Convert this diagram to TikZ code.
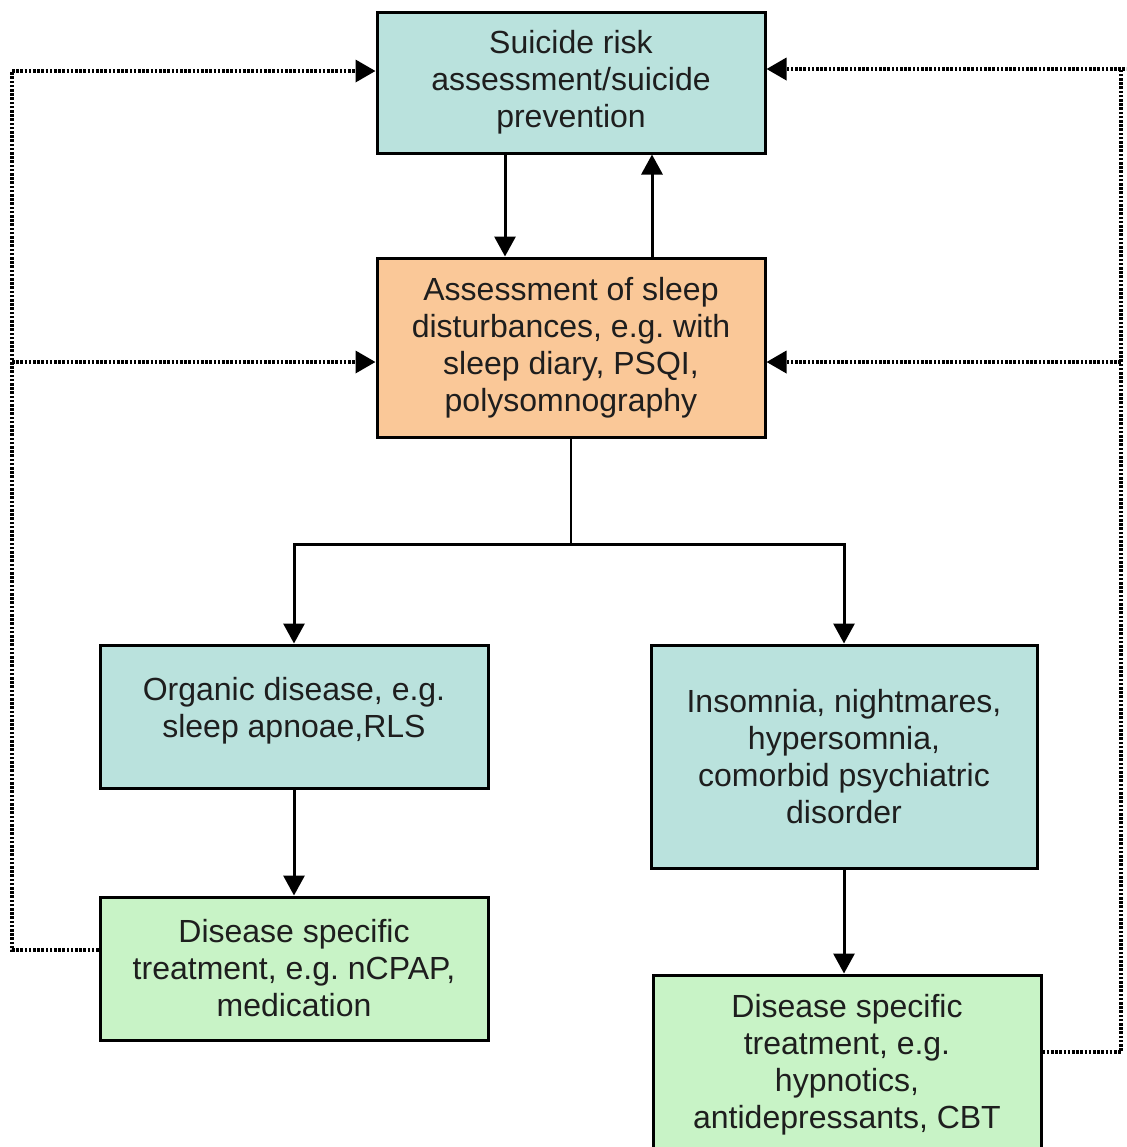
\documentclass[tikz,border=0pt]{standalone}
\usepackage{fontspec}
\setmainfont{Liberation Sans}
\frenchspacing
\usetikzlibrary{arrows.meta,calc}
\definecolor{tealfill}{RGB}{186,226,221}
\definecolor{orangefill}{RGB}{250,200,152}
\definecolor{greenfill}{RGB}{200,243,198}
\definecolor{inktext}{RGB}{30,30,30}
\tikzset{
  box/.style={draw=black, line width=1.5pt, rectangle, inner sep=0pt,
    minimum width=194pt, align=center, text=inktext,
    font=\fontsize{16}{18.5}\selectfont},
  tealbox/.style={box, fill=tealfill},
  orangebox/.style={box, fill=orangefill},
  greenbox/.style={box, fill=greenfill},
  arr/.style={line width=1.5pt, -{Triangle[length=10pt,width=10.5pt]}},
  link/.style={line width=1.2pt},
  fb/.style={line width=1.8pt, dash pattern=on 1.3pt off 0.8pt},
  fbarr/.style={fb, -{Triangle[length=10pt,width=11pt]}},
}
\begin{document}
\begin{tikzpicture}[x=0.5pt,y=-0.5pt]
\useasboundingbox (0,0) rectangle (1126,1147);
\clip (0,0) rectangle (1126,1147);
\fill[white] (0,0) rectangle (1126,1147);

% boxes
\node[tealbox, minimum height=70.5pt] (risk) at (571,82.5)
  {Suicide risk\\assessment/suicide\\prevention};
\node[orangebox, minimum height=89.5pt] (assess) at (571,347.5)
  {Assessment of sleep\\disturbances, e.g. with\\sleep diary, PSQI,\\polysomnography};
\node[tealbox, minimum height=71.5pt] (organic) at (294,716.5)
  {Organic disease, e.g.\\sleep apnoae,RLS\\[-9pt]\mbox{}};
\node[tealbox, minimum width=193pt, minimum height=111.5pt] (insom) at (844,756.5)
  {Insomnia, nightmares,\\hypersomnia,\\comorbid psychiatric\\disorder};
\node[greenbox, minimum height=71.5pt] (treatL) at (294,968.5)
  {Disease specific\\treatment, e.g. nCPAP,\\medication};
\node[greenbox, minimum height=90pt] (treatR) at (847,1065)
  {Disease specific\\treatment, e.g.\\hypnotics,\\antidepressants, CBT};

% solid flow
\draw[arr] ($(risk.south)+(-66,0)$) -- ($(assess.north)+(-66,0)$);
\draw[arr] ($(assess.north)+(81,0)$) -- ($(risk.south)+(81,0)$);
\coordinate (split) at ($(assess.south)+(0,106)$);
\draw[link] (assess.south) -- (split);
\draw[arr] (split) -| (organic.north);
\draw[arr] (split) -| (insom.north);
\draw[arr] (organic.south) -- (treatL.north);
\draw[arr] (insom.south) -- ($(treatR.north)+(-3,0)$);

% feedback loops
\coordinate (lbot) at (12,950);
\coordinate (ltop) at (12,71);
\coordinate (lmid) at (12,362);
\coordinate (rbot) at (1121,1052);
\coordinate (rtop) at (1121,69);
\coordinate (rmid) at (1121,362);
\draw[fb] (treatL.west |- lbot) -- (lbot) -- (ltop);
\draw[fbarr] (ltop) -- (risk.west |- ltop);
\draw[fbarr] (lmid) -- (assess.west |- lmid);
\draw[fb] (treatR.east |- rbot) -- (rbot) -- (rtop) -- (1130,69);
\draw[fbarr] (rtop) -- (risk.east |- rtop);
\draw[fbarr] (rmid) -- (assess.east |- rmid);
\end{tikzpicture}
\end{document}
